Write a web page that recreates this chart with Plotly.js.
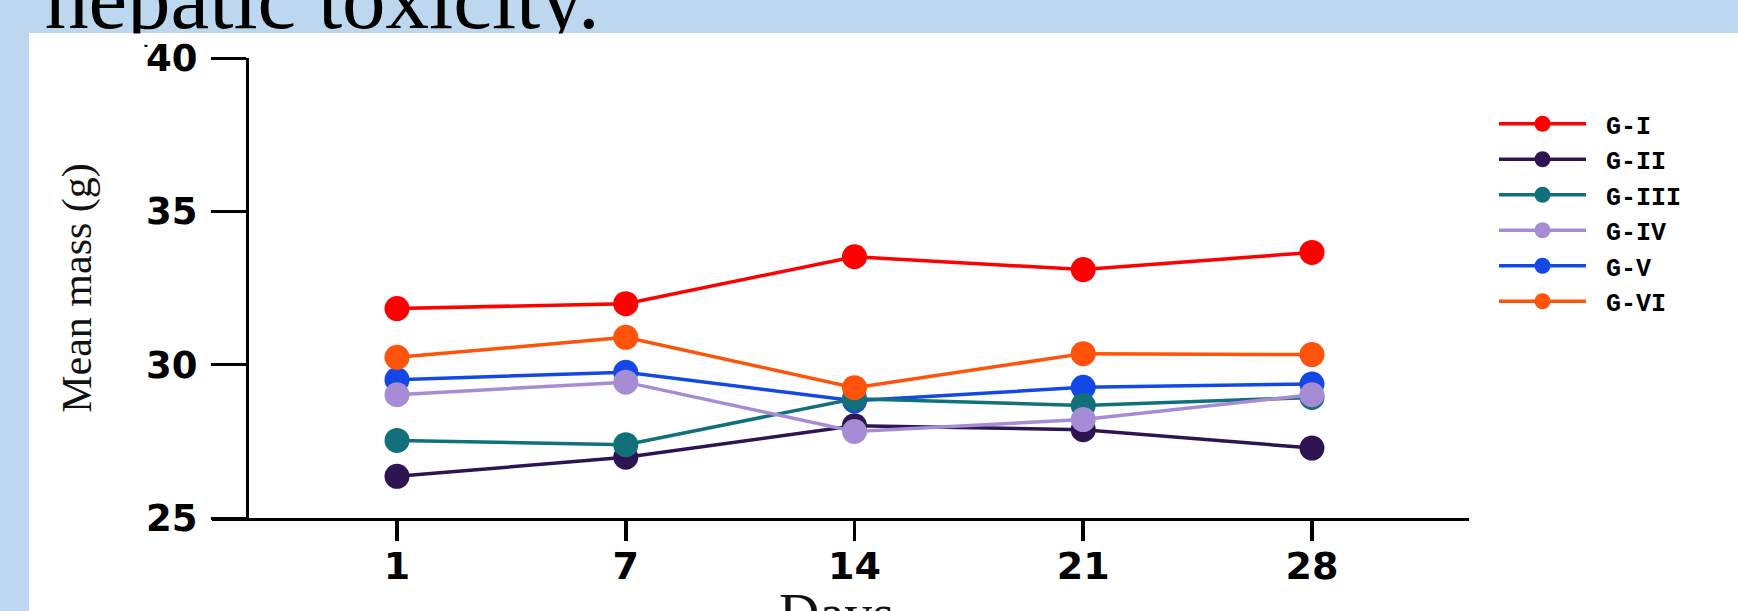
<!DOCTYPE html>
<html>
<head>
<meta charset="utf-8">
<script src="https://cdn.plot.ly/plotly-3.0.1.min.js"></script>
<style>
  html, body { margin: 0; padding: 0; background: #BDD7EE; }
  #chart { width: 1738px; height: 611px; }
</style>
</head>
<body>
<div id="chart"></div>
<script>
// ---- data ----
const days = ['1', '7', '14', '21', '28'];
const seriesNames = ['G-I', 'G-II', 'G-III', 'G-IV', 'G-V', 'G-VI'];
const gI   = [31.83, 31.99, 33.52, 33.10, 33.66];
const gII  = [26.36, 26.98, 28.01, 27.88, 27.28];
const gIII = [27.53, 27.39, 28.89, 28.67, 28.93];
const gIV  = [29.02, 29.43, 27.82, 28.21, 29.02];
const gV   = [29.51, 29.75, 28.82, 29.26, 29.37];
const gVI  = [30.24, 30.89, 29.25, 30.36, 30.33];
const yTicks = [25, 30, 35, 40];
const titleText = 'hepatic toxicity.';
const xTitle = 'Days';
const yTitle = 'Mean mass (g)';

// ---- styling ----
const colors = {
  'G-I': '#FF0000', 'G-II': '#2E1552', 'G-III': '#11707A',
  'G-IV': '#A68BD5', 'G-V': '#1448E6', 'G-VI': '#FF520A'
};
const seriesValues = { 'G-I': gI, 'G-II': gII, 'G-III': gIII, 'G-IV': gIV, 'G-V': gV, 'G-VI': gVI };
const drawOrder = ['G-I', 'G-II', 'G-V', 'G-III', 'G-IV', 'G-VI'];

const traces = drawOrder.map(name => ({
  type: 'scatter', mode: 'lines+markers', name: '\u00a0' + name,
  x: days, y: seriesValues[name],
  legendrank: seriesNames.indexOf(name) + 1,
  line: { color: colors[name], width: 3.5 },
  marker: { color: colors[name], size: 25, line: { width: 0 } }
}));

const W = 1738, H = 611, L = 212, R = 269, T = 58, B = 93;
const PW = W - L - R, PH = H - T - B;
const px = x => (x - L) / PW;
const py = y => 1 - (y - T) / PH;

function whiteBox(x0, x1, h) {
  return { text: ' ', xref: 'paper', yref: 'paper', x: px(x0), xanchor: 'left', y: py(33), yanchor: 'top',
           width: x1 - x0, height: h, bgcolor: '#FFFFFF', borderpad: 0, showarrow: false };
}

const layout = {
  width: W, height: H, autosize: false,
  margin: { l: L, r: R, t: T, b: B, pad: 0 },
  paper_bgcolor: '#BDD7EE', plot_bgcolor: 'rgba(0,0,0,0)',
  showlegend: true,
  legend: {
    x: px(1494), xanchor: 'left', y: py(101), yanchor: 'top',
    bgcolor: 'rgba(0,0,0,0)', borderwidth: 0, itemwidth: 87,
    font: { family: 'Liberation Mono', size: 25, color: '#000', weight: 'bold' }
  },
  xaxis: {
    type: 'category', range: [-0.8088, 4.6865],
    showline: true, linecolor: '#000', linewidth: 3.3,
    ticks: 'outside', ticklen: 20, tickwidth: 3.5, tickcolor: '#000',
    ticklabelstandoff: -8,
    tickfont: { family: 'DejaVu Sans', size: 38, color: '#000', weight: 'bold' },
    showgrid: false, zeroline: false, fixedrange: true
  },
  yaxis: {
    range: [25, 40], tickvals: yTicks, anchor: 'free', position: px(247),
    showline: true, linecolor: '#000', linewidth: 3.3,
    ticks: 'outside', ticklen: 35, tickwidth: 3, tickcolor: '#000',
    ticklabelstandoff: 6,
    tickfont: { family: 'DejaVu Sans', size: 37, color: '#000', weight: 'bold' },
    showgrid: false, zeroline: false, fixedrange: true,
    title: { text: yTitle, standoff: 40, font: { family: 'Liberation Serif', size: 42, color: '#111' } }
  },
  shapes: [{
    type: 'rect', xref: 'paper', yref: 'paper', layer: 'below',
    x0: px(29), x1: px(W + 10), y0: py(H + 10), y1: py(33),
    fillcolor: '#FFFFFF', line: { width: 0 }
  }],
  annotations: [
    { text: titleText, xref: 'paper', yref: 'paper', x: px(44), xanchor: 'left',
      y: py(-1.4), yanchor: 'middle', showarrow: false, borderpad: 0,
      font: { family: 'Liberation Serif', size: 87, color: '#000' } },
    whiteBox(29, 127, 17),
    whiteBox(127, 143, 17),
    whiteBox(143, 206, 9),
    whiteBox(206, 706, 17),
    { text: xTitle, xref: 'paper', yref: 'paper', x: px(836), xanchor: 'center',
      y: py(582), yanchor: 'top', showarrow: false, borderpad: 0,
      font: { family: 'Liberation Serif', size: 56, color: '#111' } }
  ]
};

Plotly.newPlot('chart', traces, layout, { displayModeBar: false, staticPlot: true });
</script>
</body>
</html>
